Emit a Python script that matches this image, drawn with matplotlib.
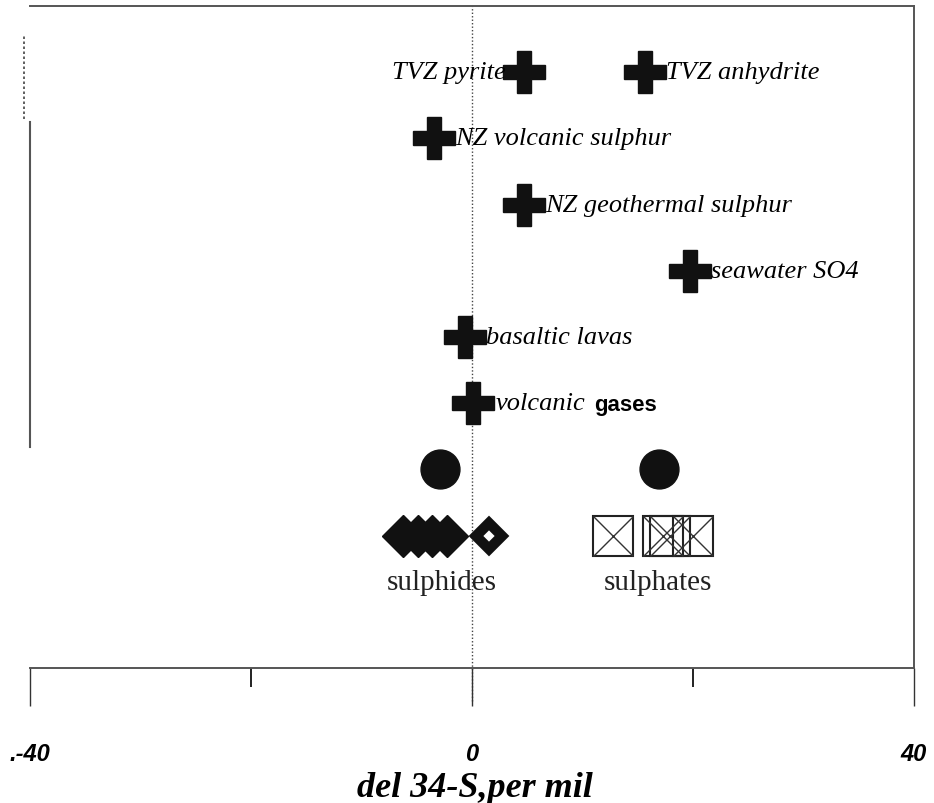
import matplotlib
matplotlib.use("Agg")
import matplotlib.pyplot as plt

# sulphur isotope sources, one cross each
src_names = ["TVZ pyrite", "TVZ anhydrite", "NZ volcanic sulphur",
             "NZ geothermal sulphur", "seawater SO4", "basaltic lavas",
             "volcanic gases"]
src_x = [4.7, 15.7, -3.4, 4.7, 19.7, -0.6, 0.1]
src_row = [8, 8, 7, 6, 5, 4, 3]
src_side = ["left", "right", "right", "right", "right", "right", "right"]

# group means (circles)
mean_x = [-2.9, 16.9]
mean_row = [2, 2]

# individual samples
sulphide_x = [-6.2, -4.9, -3.6, -2.3]
sulphide_open_x = [1.5]
sulphate_x = [12.8, 17.3, 17.9, 20.0]
sample_row = 1

group_labels = ["sulphides", "sulphates"]
group_label_x = [-2.7, 16.8]
group_label_row = 0.3

xticks = [-40, 0, 40]
xticklabels = [".-40", "0", "40"]
minor_ticks = [-20, 20]

serif = "Liberation Serif"
sans = "Liberation Sans"
ink = "#111111"
frame = "#555555"

fig = plt.figure(figsize=(9.34, 8.04), dpi=100)
ax = fig.add_axes([30 / 934, 135 / 804, 884 / 934, 662 / 804])
ax.set_xlim(-40, 40)
ax.set_ylim(-1, 9)

for s in ["top", "right", "bottom"]:
    ax.spines[s].set_color(frame)
    ax.spines[s].set_linewidth(1.4)
ax.spines["left"].set_visible(False)
# broken left edge as in the scan
ax.axvline(-40, ymin=0.334, ymax=0.825, color=frame, lw=1.5, clip_on=False)
ax.axvline(-40.5, ymin=0.83, ymax=0.955, color="#444444", lw=1.2,
           ls=(0, (1.5, 1.5)), clip_on=False)

# zero line
ax.plot([0, 0], [-1.5, 9], color="#444444", lw=1.0, ls=(0, (1, 1.5)),
        clip_on=False, zorder=1)

ax.set_yticks([])
ax.set_xticks(xticks)
ax.set_xticklabels(xticklabels, fontfamily=sans, fontweight="bold",
                   fontstyle="italic", fontsize=17)
ax.set_xticks(minor_ticks, minor=True)
ax.tick_params(axis="x", which="major", direction="out", length=27,
               width=1.0, color="#333333", pad=26)
ax.tick_params(axis="x", which="minor", direction="out", length=14,
               width=1.4, color="#222222")
ax.set_xlabel("del 34-S,per mil", fontfamily=serif, fontweight="bold",
              fontstyle="italic", fontsize=26, va="baseline")
ax.xaxis.set_label_coords(0.503, -0.193)

# crosses with labels
ax.plot(src_x, src_row, ls="none", marker="P", ms=30, color=ink, zorder=3)
for name, x, r, side in zip(src_names, src_x, src_row, src_side):
    if name == "volcanic gases":
        ax.annotate("volcanic", (x, r), xytext=(16, 0), textcoords="offset points",
                    ha="left", va="center", fontfamily=serif,
                    fontstyle="italic", fontsize=19)
        ax.annotate("gases", (x, r), xytext=(87, -1), textcoords="offset points",
                    ha="left", va="center", fontfamily=sans,
                    fontweight="bold", fontsize=16)
        continue
    dx = 15 if side == "right" else -13
    ax.annotate(name, (x, r), xytext=(dx, 0), textcoords="offset points",
                ha="left" if side == "right" else "right", va="center",
                fontfamily=serif, fontstyle="italic", fontsize=19)

ax.plot(mean_x, mean_row, ls="none", marker="o", ms=28, color=ink, zorder=3)

ax.plot(sulphide_x, [sample_row] * len(sulphide_x), ls="none", marker="D",
        ms=21, color=ink, zorder=3)
ax.plot(sulphide_open_x, [sample_row] * len(sulphide_open_x), ls="none",
        marker="D", ms=13.5, mew=7.5, mfc="white", mec=ink, zorder=3)

ax.plot(sulphate_x, [sample_row] * len(sulphate_x), ls="none", marker="s",
        ms=29, mfc="none", mec="#222222", mew=1.5, zorder=3)
ax.plot(sulphate_x, [sample_row] * len(sulphate_x), ls="none", marker="x",
        ms=29, mec="#333333", mew=1.0, zorder=3)

for lab, x in zip(group_labels, group_label_x):
    ax.text(x, group_label_row, lab, ha="center", va="center",
            fontfamily=serif, fontsize=21, color="#222222")

fig.savefig("out.png", dpi=100)
